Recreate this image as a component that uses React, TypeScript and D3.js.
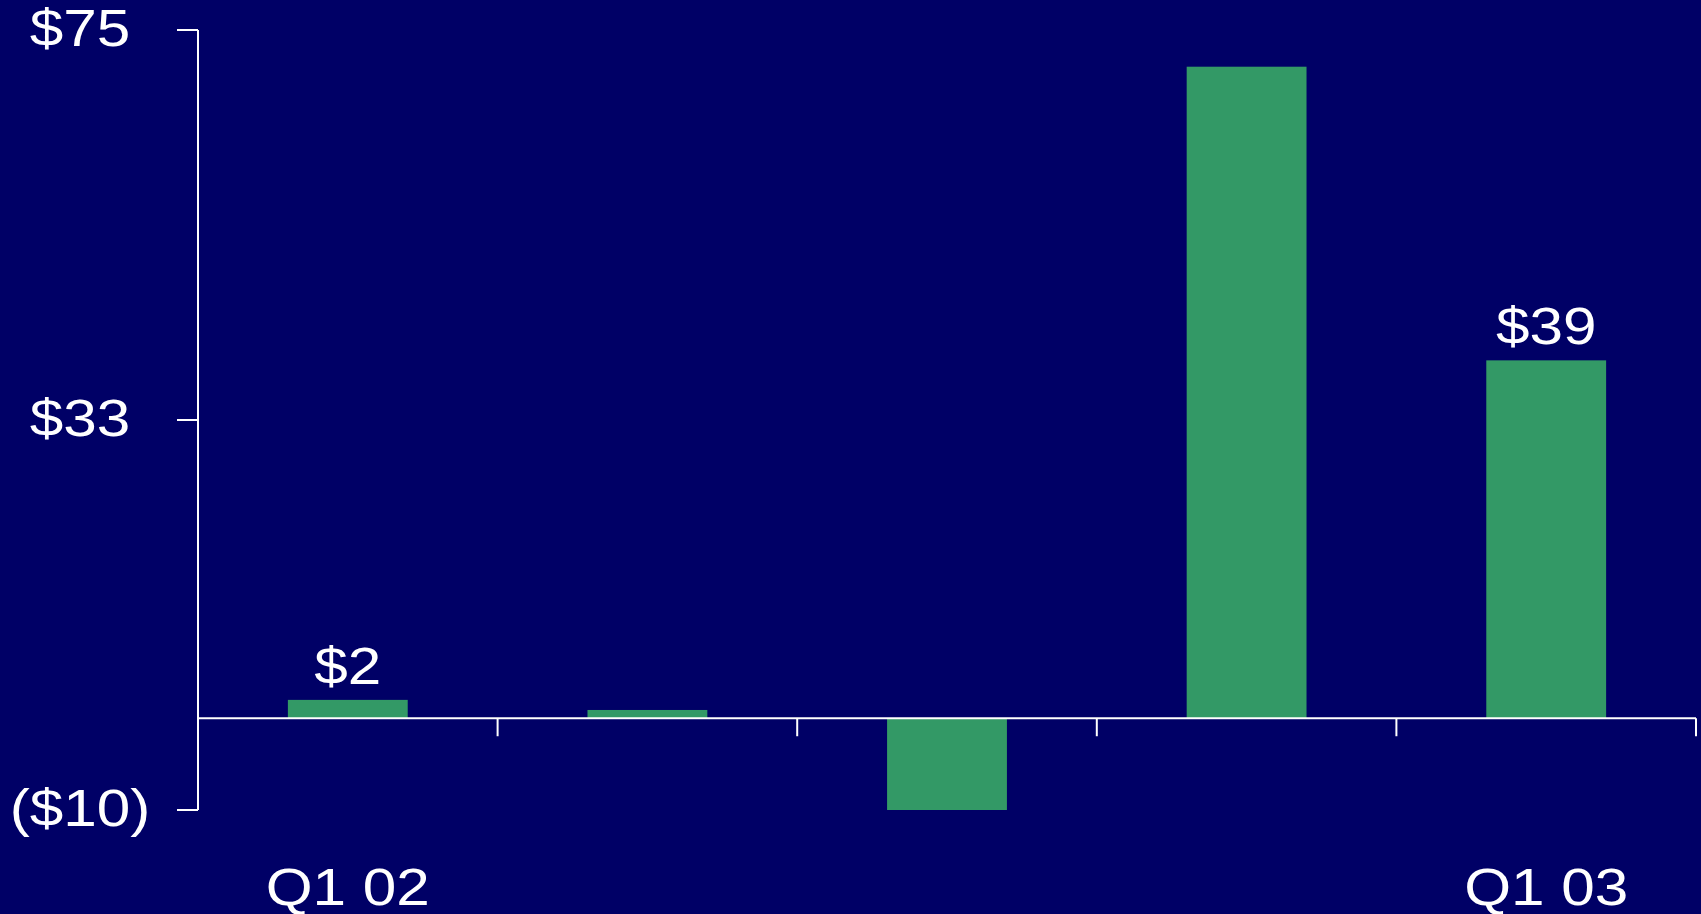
import React from "react";
import * as d3 from "d3";

const categories = ["Q1 02", "Q2 02", "Q3 02", "Q4 02", "Q1 03"];
const values = [2, 0.9, -10, 71, 39];
const xTickLabels = ["Q1 02", "", "", "", "Q1 03"];
const valueLabels = ["$2", "", "", "", "$39"];
const yTicks = [-10, 32.5, 75];
const yTickLabels = ["($10)", "$33", "$75"];

const W = 1701;
const H = 914;
const BG = "#000066";
const BAR = "#339966";
const FS = 51.5;
const SX = 1.17;

export default function App() {
  const x = d3
    .scaleBand<string>()
    .domain(categories)
    .range([198, 1696])
    .paddingInner(0.6)
    .paddingOuter(0.3);
  const y = d3.scaleLinear().domain([-10, 75]).range([810, 30]);
  const step = x.step();
  const x0 = 198;
  const boundaries = d3.range(categories.length + 1).map((i) => x0 + i * step);

  const Txt = ({ cx, cy, children }: { cx: number; cy: number; children: React.ReactNode }) => (
    <g transform={`translate(${cx},${cy}) scale(${SX},1)`}>
      <text
        x={0}
        y={0}
        textAnchor="middle"
        fill="#ffffff"
        fontFamily="'Liberation Sans', Arial, sans-serif"
        fontSize={FS}
      >
        {children}
      </text>
    </g>
  );

  return (
    <svg
      width={W}
      height={H}
      style={{ position: "absolute", left: 0, top: 0, display: "block" }}
    >
      <rect x={0} y={0} width={W} height={H} fill={BG} />
      {categories.map((c, i) => {
        const v = values[i];
        const top = y(Math.max(0, v));
        const bot = y(Math.min(0, v));
        return (
          <rect
            key={c}
            x={x(c)}
            y={top}
            width={x.bandwidth()}
            height={bot - top}
            fill={BAR}
          />
        );
      })}
      {/* y axis */}
      <line x1={x0} x2={x0} y1={y(75)} y2={y(-10)} stroke="#fff" strokeWidth={2} />
      {yTicks.map((t, i) => (
        <g key={t}>
          <line x1={x0 - 21} x2={x0} y1={y(t)} y2={y(t)} stroke="#fff" strokeWidth={2} />
          <Txt cx={80} cy={y(t) + 16}>{yTickLabels[i]}</Txt>
        </g>
      ))}
      {/* x axis */}
      <line x1={x0} x2={boundaries[boundaries.length - 1]} y1={y(0)} y2={y(0)} stroke="#fff" strokeWidth={2} />
      {boundaries.slice(1).map((bx, i) => (
        <line key={i} x1={bx} x2={bx} y1={y(0)} y2={y(0) + 18} stroke="#fff" strokeWidth={2} />
      ))}
      {categories.map((c, i) =>
        xTickLabels[i] ? (
          <Txt key={c} cx={(x(c) as number) + x.bandwidth() / 2} cy={905}>
            {xTickLabels[i]}
          </Txt>
        ) : null
      )}
      {categories.map((c, i) =>
        valueLabels[i] ? (
          <Txt key={"v" + c} cx={(x(c) as number) + x.bandwidth() / 2} cy={y(values[i]) - 16}>
            {valueLabels[i]}
          </Txt>
        ) : null
      )}
    </svg>
  );
}
